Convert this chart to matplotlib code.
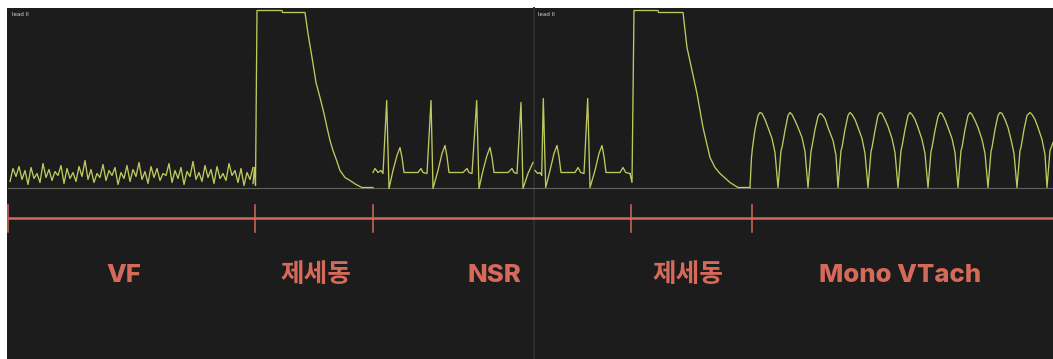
import numpy as np
import matplotlib
matplotlib.use("Agg")
import matplotlib.pyplot as plt
from matplotlib.patches import Rectangle

# ---------------- data (time in px-equivalent units, amplitude above baseline) -------------
# Ventricular fibrillation samples (sampled every 3 time units starting at 10)
vf_start, vf_step = 10, 3
vf_amp = [6, 19, 11, 21, 8, 17, 3, 20, 9, 14, 5, 24, 10, 18, 7, 16, 12, 22, 4, 19,
          9, 15, 6, 21, 11, 27, 8, 18, 5, 14, 10, 23, 7, 17, 12, 20, 3, 15, 9, 22,
          6, 18, 11, 25, 8, 16, 4, 21, 10, 19, 7, 14, 12, 24, 5, 17, 9, 20, 3, 16,
          11, 26, 8, 15, 6, 22, 10, 18, 4, 21, 9, 14, 7, 24, 12, 17, 5, 19, 2, 15, 8, 20]

# Defibrillation shock 1 + post-shock decay
shock1_t = [253, 254.5, 255.5, 257, 282, 282.5, 305, 308, 313, 316, 320, 324, 327, 330,
            333, 337, 340, 345, 350, 356, 362, 373]
shock1_a = [4, 20, 2, 177, 177, 175, 175, 154, 124, 105, 90, 74, 60, 47,
            37, 26, 17, 10, 7, 3, 0, 0]

# Normal sinus rhythm, panel 1
nsr1_t = [373, 375, 378, 381, 383, 386.7, 389, 393, 397, 400, 402, 404,
          418, 421, 423, 427, 431, 433, 438, 442, 445, 447, 449,
          463, 467, 469, 472, 476.7, 479, 483, 487, 490, 492, 494,
          508, 512, 514, 517, 521, 523, 528, 533]
nsr1_a = [15, 19, 15, 17, 14, 87, -1, 17, 32, 40, 30, 15,
          15, 19, 15, 14, 87, -1, 17, 34, 42, 31, 15,
          15, 19, 15, 14, 87, -1, 17, 32, 40, 30, 15,
          15, 19, 15, 14, 85, -1, 14, 25]

# Normal sinus rhythm, panel 2
nsr2_t = [535, 537.7, 540, 541.7, 543.3, 545.7, 550, 554, 557, 559, 561,
          575, 578, 580.7, 584, 587.7, 590, 595, 599, 602, 604, 606,
          620, 623, 625.7, 630]
nsr2_a = [17, 14, 15, 12, 89, 0, 17, 34, 42, 31, 15,
          15, 20, 15, 14, 89, 0, 17, 34, 42, 31, 15,
          15, 20, 15, 14]

# Defibrillation shock 2 + decay
shock2_t = [630, 632, 634, 658, 658.5, 683, 687, 692, 697, 703, 710, 715, 720, 730, 738, 750]
shock2_a = [14, 5, 177, 177, 175, 175, 140, 117, 94, 60, 30, 20, 14, 5, 0, 0]

# Monomorphic ventricular tachycardia
vt_t = [750, 751.5, 752.5, 755, 758, 760, 762, 765, 768, 772, 775, 778,
        781, 782, 785, 788, 790, 792, 795, 798, 802, 805, 808,
        811, 812, 815, 818, 820, 822, 825, 828, 833, 836, 838,
        841, 842, 845, 848, 850, 852, 855, 858, 862, 865, 868,
        871, 872, 875, 878, 880, 882, 885, 888, 892, 895, 898,
        901, 902, 905, 908, 910, 912, 915, 918, 922, 925, 928,
        931, 932, 935, 938, 940, 942, 945, 948, 952, 955, 958,
        961, 962, 965, 968, 970, 972, 975, 978, 982, 985, 988,
        991, 992, 995, 998, 1000, 1002, 1005, 1008, 1011, 1014, 1017,
        1020, 1021, 1024, 1027, 1030, 1032, 1035, 1038, 1042, 1045, 1047,
        1050, 1053]
vt_a = [0, 30, 40, 58, 72, 75, 74, 68, 60, 49, 35, 0,
        37, 40, 57, 72, 75, 73, 67, 60, 50, 36, 0,
        36, 41, 58, 71, 74, 73, 69, 60, 47, 32, 0,
        37, 40, 58, 72, 75, 73, 68, 60, 49, 34, 0,
        36, 40, 57, 72, 75, 74, 68, 61, 49, 35, 0,
        37, 41, 58, 72, 75, 73, 68, 60, 48, 34, 0,
        36, 40, 57, 71, 75, 74, 68, 60, 49, 35, 0,
        37, 40, 58, 72, 75, 73, 67, 60, 48, 34, 0,
        36, 40, 58, 72, 75, 74, 68, 60, 48, 34, 0,
        37, 40, 58, 72, 75, 73, 68, 60, 48, 33, 0,
        37, 45]

# Timeline segments
seg_bounds = [8, 255, 373, 631, 752, 1053]
seg_labels = ["VF", "제세동", "NSR", "제세동", "Mono VTach"]
lead_labels = ["lead II", "lead II"]

# ---------------- layout / styling ----------------
W, H = 1053, 359
BASE_Y = 187.5  # baseline pixel row
def a_of(ypix):
    return BASE_Y - ypix

label_x = [124, 316, 494, 688, 900]
lead_x = [12, 538]

ecg_color = "#c0c95e"
tl_color = "#d5695a"
bg_color = "#1b1c1b"

fig = plt.figure(figsize=(W / 100, H / 100), dpi=100, facecolor="white")
ax = fig.add_axes([0, 0, 1, 1])
ax.set_xlim(0, W)
ax.set_ylim(a_of(H), a_of(0))
ax.axis("off")

# dark panel background
ax.add_patch(Rectangle((7, a_of(H)), W - 7, a_of(8) - a_of(H), facecolor=bg_color,
                       edgecolor="none", zorder=0))
# panel divider
ax.plot([534, 534], [a_of(8), a_of(H)], color="#2e2f2d", lw=1.4, zorder=1)
# baseline
ax.plot([8, W], [0, 0], color="#5f615b", lw=0.8, zorder=1)

# ECG traces
vf_t = vf_start + vf_step * np.arange(len(vf_amp))
for t, a in [(vf_t, vf_amp), (shock1_t, shock1_a), (nsr1_t, nsr1_a),
             (nsr2_t, nsr2_a), (shock2_t, shock2_a), (vt_t, vt_a)]:
    ax.plot(t, a, color=ecg_color, lw=0.95, solid_joinstyle="round", zorder=3)

# lead labels
for x, lab in zip(lead_x, lead_labels):
    ax.text(x, a_of(14), lab, color="#d8d8d8", fontsize=4, va="center", ha="left",
            family=["DejaVu Sans"], zorder=4)

# timeline
y_tl = a_of(218)
ax.plot([seg_bounds[0], seg_bounds[-1]], [y_tl, y_tl], color=tl_color, lw=1.8,
        solid_capstyle="butt", zorder=2)
for x in seg_bounds[:-1]:
    ax.plot([x, x], [a_of(205), a_of(232)], color=tl_color, lw=1.1, zorder=2)
for xc, lab in zip(label_x, seg_labels):
    ax.text(xc, a_of(282), lab, color=tl_color, fontsize=18.5, fontweight="heavy",
            ha="center", va="baseline", family=["Inter", "Noto Sans CJK KR", "DejaVu Sans"])

fig.savefig("out.png", dpi=100, facecolor="white")
